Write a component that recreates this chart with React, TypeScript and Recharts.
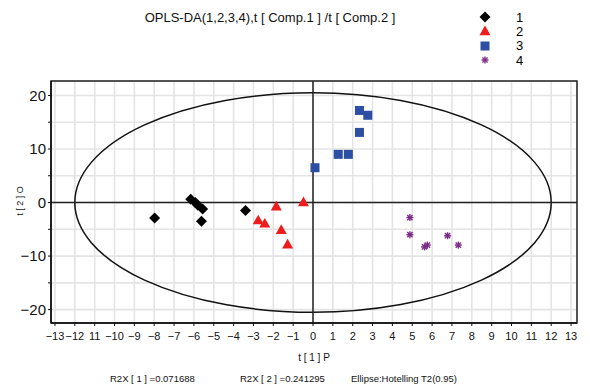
import React from 'react'
import {
  ScatterChart,
  Scatter,
  XAxis,
  YAxis,
  CartesianGrid,
  ReferenceLine,
  ReferenceArea,
} from 'recharts'

// group scores: t[1] (x) and t[2]O (y)
const group1 = [
  { x: -7.98, y: -2.9 },
  { x: -6.16, y: 0.6 },
  { x: -5.93, y: 0.0 },
  { x: -5.8, y: -0.5 },
  { x: -5.56, y: -1.2 },
  { x: -5.62, y: -3.5 },
  { x: -3.4, y: -1.5 },
]
const group2 = [
  { x: -2.76, y: -3.3 },
  { x: -2.43, y: -3.9 },
  { x: -1.85, y: -0.7 },
  { x: -1.6, y: -5.1 },
  { x: -1.28, y: -7.8 },
  { x: -0.48, y: 0.1 },
]
const group3 = [
  { x: 0.1, y: 6.5 },
  { x: 1.27, y: 9.0 },
  { x: 1.78, y: 9.0 },
  { x: 2.34, y: 13.1 },
  { x: 2.34, y: 17.2 },
  { x: 2.76, y: 16.3 },
]
const group4 = [
  { x: 4.88, y: -2.8 },
  { x: 4.88, y: -6.0 },
  { x: 5.62, y: -8.3 },
  { x: 5.76, y: -7.95 },
  { x: 6.78, y: -6.2 },
  { x: 7.32, y: -7.95 },
]

const groupNames = ['1', '2', '3', '4']
const colors = ['#000000', '#ee1c1c', '#2c4fa3', '#7a2a88']

const xTicks = [-13, -12, -11, -10, -9, -8, -7, -6, -5, -4, -3, -2, -1, 0, 1, 2, 3, 4, 5, 6, 7, 8, 9, 10, 11, 12, 13]
// labels as printed (the -11 is missing its minus sign in the original)
const xTickLabels = ['−13', '−12', '11', '−10', '−9', '−8', '−7', '−6', '−5', '−4', '−3', '−2', '−1', '0', '1', '2', '3', '4', '5', '6', '7', '8', '9', '10', '11', '12', '13']
const yTicks = [-20, -15, -10, -5, 0, 5, 10, 15, 20]
const yTickLabels = ['−20', '', '−10', '', '0', '', '10', '', '20']

// Hotelling T2 (0.95) ellipse semi-axes
const ellipseX = 12
const ellipseY = 20.5

const FONT = '"Liberation Sans", Arial, sans-serif'

function Diamond({ cx, cy, fill }: any) {
  const r = 5.5
  return <polygon points={`${cx},${cy - r} ${cx + r},${cy} ${cx},${cy + r} ${cx - r},${cy}`} fill={fill} />
}
function Triangle({ cx, cy, fill }: any) {
  const r = 5.5
  return <polygon points={`${cx},${cy - r} ${cx + r},${cy + r * 0.75} ${cx - r},${cy + r * 0.75}`} fill={fill} />
}
function Square({ cx, cy, fill }: any) {
  const r = 4.5
  return <rect x={cx - r} y={cy - r} width={r * 2} height={r * 2} fill={fill} />
}
function Star({ cx, cy, fill }: any) {
  const r = 3.5
  const d = r * 0.75
  return (
    <g stroke={fill} strokeWidth={1.4}>
      <line x1={cx - r} y1={cy} x2={cx + r} y2={cy} />
      <line x1={cx} y1={cy - r} x2={cx} y2={cy + r} />
      <line x1={cx - d} y1={cy - d} x2={cx + d} y2={cy + d} />
      <line x1={cx - d} y1={cy + d} x2={cx + d} y2={cy - d} />
    </g>
  )
}

const shapes = [Diamond, Triangle, Square, Star]

function LegendBox() {
  return (
    <div style={{ position: 'absolute', left: 478, top: 10, fontFamily: FONT, fontSize: 13 }}>
      {groupNames.map((name, i) => {
        const Shape = shapes[i]
        return (
          <div key={name} style={{ display: 'flex', alignItems: 'center', height: 14.3, overflow: 'hidden' }}>
            <svg width={16} height={14}>
              <Shape cx={7} cy={7} fill={colors[i]} />
            </svg>
            <span style={{ marginLeft: 22, lineHeight: '13px' }}>{name}</span>
          </div>
        )
      })}
    </div>
  )
}

export default function App() {
  const data = [group1, group2, group3, group4]
  return (
    <div style={{ position: 'absolute', left: 0, top: 0, width: 590, height: 390, background: '#fff', fontFamily: FONT }}>
      <div style={{ position: 'absolute', left: 0, width: 540, top: 10, textAlign: 'center', fontSize: 13, color: '#111' }}>
        OPLS-DA(1,2,3,4),t [ Comp.1 ] /t [ Comp.2 ]
      </div>
      <LegendBox />
      <ScatterChart width={590} height={390} margin={{ top: 81, right: 13, bottom: 37, left: 11 }}>
        <CartesianGrid stroke="#e4e4e4" strokeWidth={1.6} />
        <XAxis
          type="number"
          dataKey="x"
          domain={[-13.2, 13.3]}
          ticks={xTicks}
          interval={0}
          allowDataOverflow
          tickFormatter={(v: number) => xTickLabels[xTicks.indexOf(v)]}
          tick={{ fontSize: 11, fill: '#111', fontFamily: FONT }}
          tickSize={3}
          tickMargin={6}
          height={30}
          axisLine={{ stroke: '#111', strokeWidth: 1.5 }}
          tickLine={{ stroke: '#111' }}
          label={{ value: 't [ 1 ] P', position: 'insideBottom', offset: -8, fontSize: 10, fill: '#111', fontFamily: FONT }}
        />
        <YAxis
          type="number"
          dataKey="y"
          domain={[-22.5, 22.7]}
          ticks={yTicks}
          interval={0}
          allowDataOverflow
          tickFormatter={(v: number) => yTickLabels[yTicks.indexOf(v)]}
          tick={{ fontSize: 15, fill: '#111', fontFamily: FONT }}
          tickSize={3}
          tickMargin={2}
          width={40}
          axisLine={{ stroke: '#111', strokeWidth: 1.5 }}
          tickLine={{ stroke: '#111' }}
        />
        <ReferenceLine x={0} stroke="#222" strokeWidth={1.5} />
        <ReferenceLine y={0} stroke="#222" strokeWidth={1.5} />
        <ReferenceArea
          x1={-ellipseX}
          x2={ellipseX}
          y1={-ellipseY}
          y2={ellipseY}
          shape={(p: any) => (
            <ellipse
              cx={p.x + p.width / 2}
              cy={p.y + p.height / 2}
              rx={Math.abs(p.width) / 2}
              ry={Math.abs(p.height) / 2}
              fill="none"
              stroke="#111"
              strokeWidth={1.5}
            />
          )}
        />
        <ReferenceArea x1={-13.2} x2={13.3} y1={-22.5} y2={22.7} fill="none" stroke="#222" strokeWidth={1.5} fillOpacity={0} />
        {data.map((d, i) => {
          const Shape = shapes[i]
          return (
            <Scatter
              key={groupNames[i]}
              name={groupNames[i]}
              data={d}
              fill={colors[i]}
              isAnimationActive={false}
              shape={(p: any) => <Shape cx={p.cx} cy={p.cy} fill={colors[i]} />}
            />
          )
        })}
      </ScatterChart>
      <div
        style={{
          position: 'absolute',
          left: 20,
          top: 201,
          transform: 'translate(-50%, -50%) rotate(-90deg)',
          fontSize: 9,
          color: '#111',
          whiteSpace: 'nowrap',
        }}
      >
        t [ 2 ] O
      </div>
      <div style={{ position: 'absolute', top: 373, left: 0, width: 590, fontSize: 9.5, color: '#111' }}>
        <span style={{ position: 'absolute', left: 110 }}>R2X [ 1 ] =0.071688</span>
        <span style={{ position: 'absolute', left: 240 }}>R2X [ 2 ] =0.241295</span>
        <span style={{ position: 'absolute', left: 351 }}>Ellipse:Hotelling T2(0.95)</span>
      </div>
    </div>
  )
}
